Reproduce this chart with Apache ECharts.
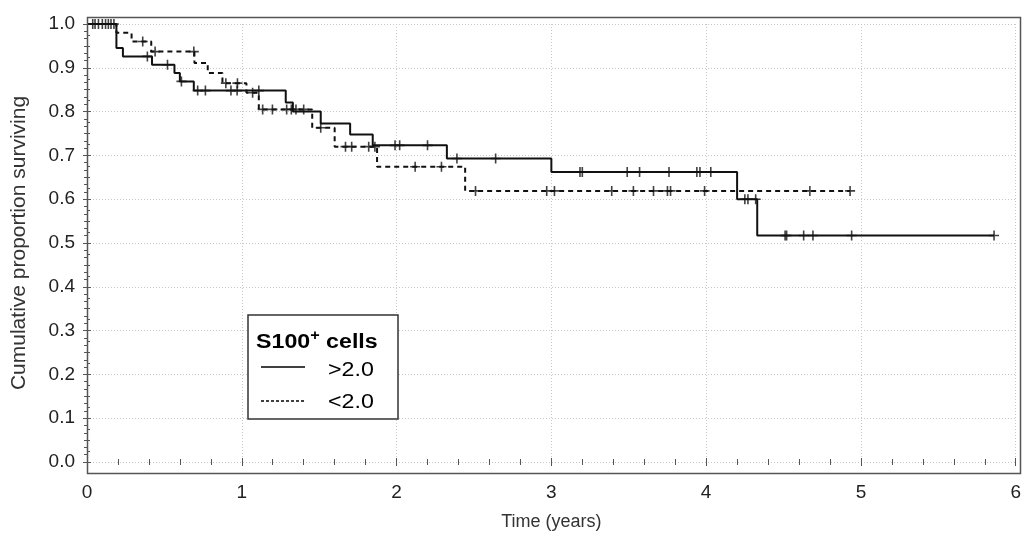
<!DOCTYPE html>
<html>
<head>
<meta charset="utf-8">
<script src="https://cdn.jsdelivr.net/npm/echarts@6/dist/echarts.min.js"></script>
<style>
html,body{margin:0;padding:0;background:#fff;}
#chart{width:1024px;height:536px;}
</style>
</head>
<body>
<div id="chart"></div>
<script>
// ---- data ----
const xTicks = [0, 1, 2, 3, 4, 5, 6];
const yTicks = [0.0, 0.1, 0.2, 0.3, 0.4, 0.5, 0.6, 0.7, 0.8, 0.9, 1.0];

// S100+ cells >2.0 : event times and survival after each step
const highTimes = [0, 0.19, 0.232, 0.42, 0.565, 0.60, 0.69, 1.284, 1.33, 1.51, 1.70, 1.846, 2.325, 3.0, 4.20, 4.33, 5.86];
const highSurv  = [1, 0.945, 0.926, 0.907, 0.888, 0.869, 0.848, 0.821, 0.80, 0.773, 0.748, 0.723, 0.693, 0.662, 0.60, 0.517, 0.517];
const highCensored = [0.037, 0.074, 0.12, 0.155, 0.39, 0.52, 0.61, 0.715, 0.765, 0.93, 0.97, 1.11, 1.99, 2.02, 2.20, 2.39, 2.64, 3.185, 3.20, 3.49, 3.57, 3.76, 3.94, 3.96, 4.03, 4.25, 4.27, 4.32, 4.51, 4.52, 4.63, 4.69, 4.94, 5.86];

// S100+ cells <2.0
const lowTimes = [0, 0.19, 0.288, 0.415, 0.694, 0.78, 0.875, 1.03, 1.11, 1.455, 1.60, 1.874, 2.443, 4.93];
const lowSurv  = [1, 0.98, 0.96, 0.937, 0.911, 0.888, 0.865, 0.843, 0.805, 0.763, 0.72, 0.674, 0.619, 0.619];
const lowCensored = [0.052, 0.099, 0.138, 0.174, 0.36, 0.44, 0.69, 0.897, 0.972, 1.07, 1.135, 1.198, 1.29, 1.32, 1.35, 1.40, 1.51, 1.67, 1.71, 1.82, 1.86, 2.12, 2.29, 2.51, 2.97, 3.02, 3.39, 3.53, 3.66, 3.75, 3.77, 3.99, 4.67, 4.93];

const legendTitle = ['S100', '+', ' cells'];
const legendLabels = ['>2.0', '<2.0'];
const xTitle = 'Time (years)';
const yTitle = 'Cumulative proportion surviving';

// ---- helpers ----
function survAt(times, surv, t) {
  let s = surv[0];
  for (let i = 0; i < times.length; i++) { if (times[i] <= t) s = surv[i]; }
  return s;
}
const pairs = (ts, ss) => ts.map((t, i) => [t, ss[i]]);
const censorPts = (cs, ts, ss) => cs.map(t => [t, survAt(ts, ss, t)]);

const FONT = 'Liberation Sans';
const crossPath = 'path://M4.2,0h1.6v10h-1.6z M0,4.2h10v1.6h-10z';
const frameColor = '#555';
const STRETCH = 1.16;

const chart = echarts.init(document.getElementById('chart'), null, {renderer: 'canvas'});
const option = {
  backgroundColor: '#fff',
  animation: false,
  grid: {left: 87, right: 4, top: 24, bottom: 72},
  xAxis: [
    {
      type: 'value', min: 0, max: 6, interval: 1, position: 'bottom', offset: 9,
      axisLine: {show: false},
      axisTick: {show: true, inside: true, length: 4, lineStyle: {color: frameColor}},
      minorTick: {show: true, splitNumber: 5, length: 3, lineStyle: {color: frameColor}},
      splitLine: {show: true, lineStyle: {color: '#c8c8c8', type: [1, 2], width: 1}},
      axisLabel: {color: '#222', fontSize: 19, fontFamily: FONT, margin: 12,
        formatter: v => xTicks.includes(v) ? String(v) : ''},
      name: xTitle, nameLocation: 'middle', nameGap: 42,
      nameTextStyle: {color: '#333', fontSize: 18, fontFamily: FONT}
    },
    {
      type: 'value', min: 0, max: 6, interval: 1, position: 'top', offset: 7,
      axisLine: {show: false},
      axisTick: {show: true, inside: true, length: 4, lineStyle: {color: frameColor}},
      minorTick: {show: true, splitNumber: 5, length: 3, lineStyle: {color: frameColor}},
      splitLine: {show: false}, axisLabel: {show: false}
    }
  ],
  yAxis: [
    {
      type: 'value', min: 0, max: 1, interval: 0.1, position: 'left',
      axisLine: {show: false},
      axisTick: {show: true, inside: true, length: 4, lineStyle: {color: frameColor}},
      minorTick: {show: true, splitNumber: 4, length: 3, lineStyle: {color: frameColor}},
      splitLine: {show: true, lineStyle: {color: '#c8c8c8', type: [1, 2], width: 1}},
      axisLabel: {color: '#222', fontSize: 19, fontFamily: FONT, margin: 12,
        formatter: v => v.toFixed(1)},
      name: yTitle, nameLocation: 'middle', nameGap: 57, nameRotate: 90,
      nameTextStyle: {color: '#333', fontSize: 21, fontFamily: FONT}
    },
    {
      type: 'value', min: 0, max: 1, interval: 0.1, position: 'right',
      axisLine: {show: false},
      axisTick: {show: true, inside: true, length: 4, lineStyle: {color: frameColor}},
      minorTick: {show: true, splitNumber: 6, length: 3, lineStyle: {color: frameColor}},
      splitLine: {show: false}, axisLabel: {show: false}
    }
  ],
  series: [
    {
      type: 'line', step: 'end', symbol: 'none',
      data: pairs(highTimes, highSurv),
      lineStyle: {color: '#111', width: 2}, z: 3
    },
    {
      type: 'line', step: 'end', symbol: 'none',
      data: pairs(lowTimes, lowSurv),
      lineStyle: {color: '#111', width: 2, type: [5, 4]}, z: 3
    },
    {
      type: 'scatter', symbol: crossPath, symbolSize: [10, 10],
      data: censorPts(highCensored, highTimes, highSurv),
      itemStyle: {color: '#111'}, z: 4
    },
    {
      type: 'scatter', symbol: crossPath, symbolSize: [10, 10],
      data: censorPts(lowCensored, lowTimes, lowSurv),
      itemStyle: {color: '#111'}, z: 4
    }
  ],
  graphic: [
    // plot frame
    {type: 'rect', x: 87.5, y: 17.5, shape: {width: 933, height: 456}, z: 9, silent: true,
      style: {fill: null, stroke: frameColor, lineWidth: 1.5}},
    // legend box
    {type: 'rect', x: 248, y: 315, shape: {width: 150, height: 104}, z: 10,
      style: {fill: '#fff', stroke: '#333', lineWidth: 1.5}},
    {type: 'text', x: 256, y: 342, scaleX: STRETCH, z: 11,
      style: {
        text: '{b|' + legendTitle[0] + '}{s|' + legendTitle[1] + '}{b|' + legendTitle[2] + '}',
        verticalAlign: 'middle',
        rich: {
          b: {fontSize: 20, fontWeight: 'bold', fontFamily: FONT, fill: '#000', lineHeight: 26},
          s: {fontSize: 14, fontWeight: 'bold', fontFamily: FONT, fill: '#000', verticalAlign: 'top', lineHeight: 14}
        }
      }},
    {type: 'line', z: 11, shape: {x1: 261, y1: 367, x2: 305, y2: 367}, style: {stroke: '#000', lineWidth: 1.5}},
    {type: 'line', z: 11, shape: {x1: 261, y1: 401, x2: 305, y2: 401}, style: {stroke: '#000', lineWidth: 1.5, lineDash: [3, 2]}},
    {type: 'text', x: 328, y: 370, scaleX: STRETCH, z: 11,
      style: {text: legendLabels[0], fontSize: 20, fontFamily: FONT, fill: '#000', verticalAlign: 'middle'}},
    {type: 'text', x: 328, y: 402, scaleX: STRETCH, z: 11,
      style: {text: legendLabels[1], fontSize: 20, fontFamily: FONT, fill: '#000', verticalAlign: 'middle'}}
  ]
};
chart.setOption(option);
</script>
</body>
</html>
